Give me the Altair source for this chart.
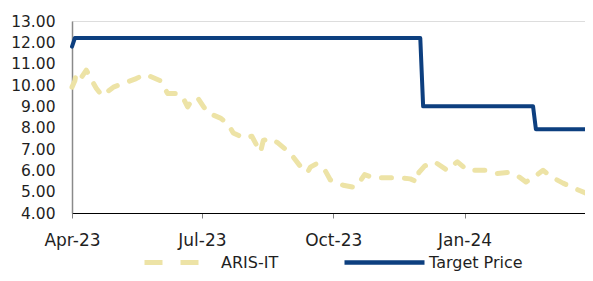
import altair as alt
import pandas as pd

# ARIS-IT share price
aris_dates = [
    "2023-04-01", "2023-04-03", "2023-04-04", "2023-04-08", "2023-04-11", "2023-04-15",
    "2023-04-18", "2023-04-22", "2023-04-30", "2023-05-04", "2023-05-08", "2023-05-16",
    "2023-05-22", "2023-05-26", "2023-06-02", "2023-06-07", "2023-06-13", "2023-06-17",
    "2023-06-21", "2023-06-24", "2023-06-28", "2023-07-02", "2023-07-05", "2023-07-14",
    "2023-07-19", "2023-07-23", "2023-07-31", "2023-08-05", "2023-08-11", "2023-08-13",
    "2023-08-18", "2023-08-23", "2023-09-01", "2023-09-09", "2023-09-13", "2023-09-15",
    "2023-09-19", "2023-09-24", "2023-09-29", "2023-10-08", "2023-10-16", "2023-10-20",
    "2023-10-23", "2023-10-29", "2023-11-08", "2023-11-17", "2023-11-24", "2023-11-29",
    "2023-11-30", "2023-12-04", "2023-12-11", "2023-12-20", "2023-12-23", "2023-12-27",
    "2024-01-03", "2024-01-10", "2024-01-16", "2024-01-24", "2024-01-31", "2024-02-06",
    "2024-02-13", "2024-02-19", "2024-02-25", "2024-03-03", "2024-03-10", "2024-03-20",
    "2024-03-29", "2024-03-31",
]
aris_values = [
    9.9, 10.2, 10.6, 10.4, 10.7, 10.2,
    9.85, 9.5, 9.9, 10.0, 10.1, 10.3,
    10.5, 10.4, 10.2, 9.6, 9.6, 9.5,
    8.97, 9.3, 9.4, 9.0, 8.7, 8.45,
    8.2, 7.75, 7.5, 7.6, 6.85, 7.4,
    7.5, 7.3, 6.8, 6.1, 5.9, 6.15,
    6.3, 6.15, 5.55, 5.3, 5.2, 5.5,
    5.8, 5.65, 5.65, 5.65, 5.6, 5.45,
    5.9, 6.2, 6.4, 6.0, 6.2, 6.4,
    6.0, 6.0, 6.0, 5.85, 5.9, 5.8,
    5.45, 5.7, 6.0, 5.65, 5.4, 5.1,
    4.85, 4.85,
]

# Target price
tp_dates = ["2023-04-01", "2023-04-03", "2023-12-01", "2023-12-03",
            "2024-02-18", "2024-02-20", "2024-03-31"]
tp_values = [11.8, 12.2, 12.2, 9.0, 9.0, 7.93, 7.93]

aris_color = "#EDE3A6"
tp_color = "#0D3F7F"
y_ticks = [4, 5, 6, 7, 8, 9, 10, 11, 12, 13]

aris_df = pd.DataFrame({"date": aris_dates, "value": aris_values, "series": "ARIS-IT"})
tp_df = pd.DataFrame({"date": tp_dates, "value": tp_values, "series": "Target Price"})

FONT = "DejaVu Sans"
TXT = "#1f1f1f"

x_enc = alt.X(
    "date:T",
    scale=alt.Scale(domain=[alt.DateTime(year=2023, month=4, date=1),
                            alt.DateTime(year=2024, month=3, date=31)],
                    range=[0, 521]),
    axis=alt.Axis(
        title=None,
        format="%b-%y",
        values=[alt.DateTime(year=2023, month=4, date=1),
                alt.DateTime(year=2023, month=7, date=1),
                alt.DateTime(year=2023, month=10, date=1),
                alt.DateTime(year=2024, month=1, date=1)],
        grid=False,
        domainColor="#000000",
        domainWidth=1,
        ticks=True,
        tickColor="#808080",
        tickSize=5,
        labelPadding=14,
        labelFlush=False,
        labelFont=FONT,
        labelFontSize=17,
        labelColor=TXT,
    ),
)
y_enc = alt.Y(
    "value:Q",
    scale=alt.Scale(domain=[4, 13], nice=False, zero=False),
    axis=alt.Axis(
        title=None,
        values=y_ticks,
        format=".2f",
        grid=False,
        ticks=False,
        domainColor="#8a8a8a",
        domainWidth=1.5,
        labelPadding=17,
        labelFont=FONT,
        labelFontSize=15.5,
        labelColor=TXT,
    ),
)

aris = alt.Chart(aris_df).mark_line(
    strokeWidth=5, strokeDash=[10, 13], strokeCap="round", strokeJoin="round", clip=False
).encode(
    x=x_enc,
    y=y_enc,
    color=alt.Color(
        "series:N",
        scale=alt.Scale(domain=["ARIS-IT"], range=[aris_color]),
        legend=alt.Legend(
            title=None,
            orient="none",
            legendX=70,
            legendY=211,
            symbolType="stroke",
            symbolSize=3136,
            symbolStrokeWidth=5,
            symbolDash=[18, 18],
            labelFont=FONT,
            labelFontSize=16,
            labelColor=TXT,
            labelOffset=18,
        ),
    ),
)

tp = alt.Chart(tp_df).mark_line(
    strokeWidth=4, strokeJoin="round", strokeCap="round", clip=False
).encode(
    x=x_enc,
    y=y_enc,
    stroke=alt.Stroke(
        "series:N",
        scale=alt.Scale(domain=["Target Price"], range=[tp_color]),
        legend=alt.Legend(
            title=None,
            orient="none",
            legendX=270,
            legendY=199,
            symbolType="stroke",
            symbolSize=6400,
            symbolStrokeWidth=4.5,
            labelFont=FONT,
            labelFontSize=16,
            labelColor=TXT,
            labelOffset=2,
        ),
    ),
)

chart = (
    alt.layer(aris, tp)
    .properties(
        width=513,
        height=192,
        autosize=alt.AutoSizeParams(type="none"),
        padding={"left": 64, "top": 13, "right": 0, "bottom": 60},
    )
    .configure_view(stroke=None)
    .configure(background="#ffffff")
)

chart.save("out.html", embed_options={"renderer": "svg", "actions": False})
